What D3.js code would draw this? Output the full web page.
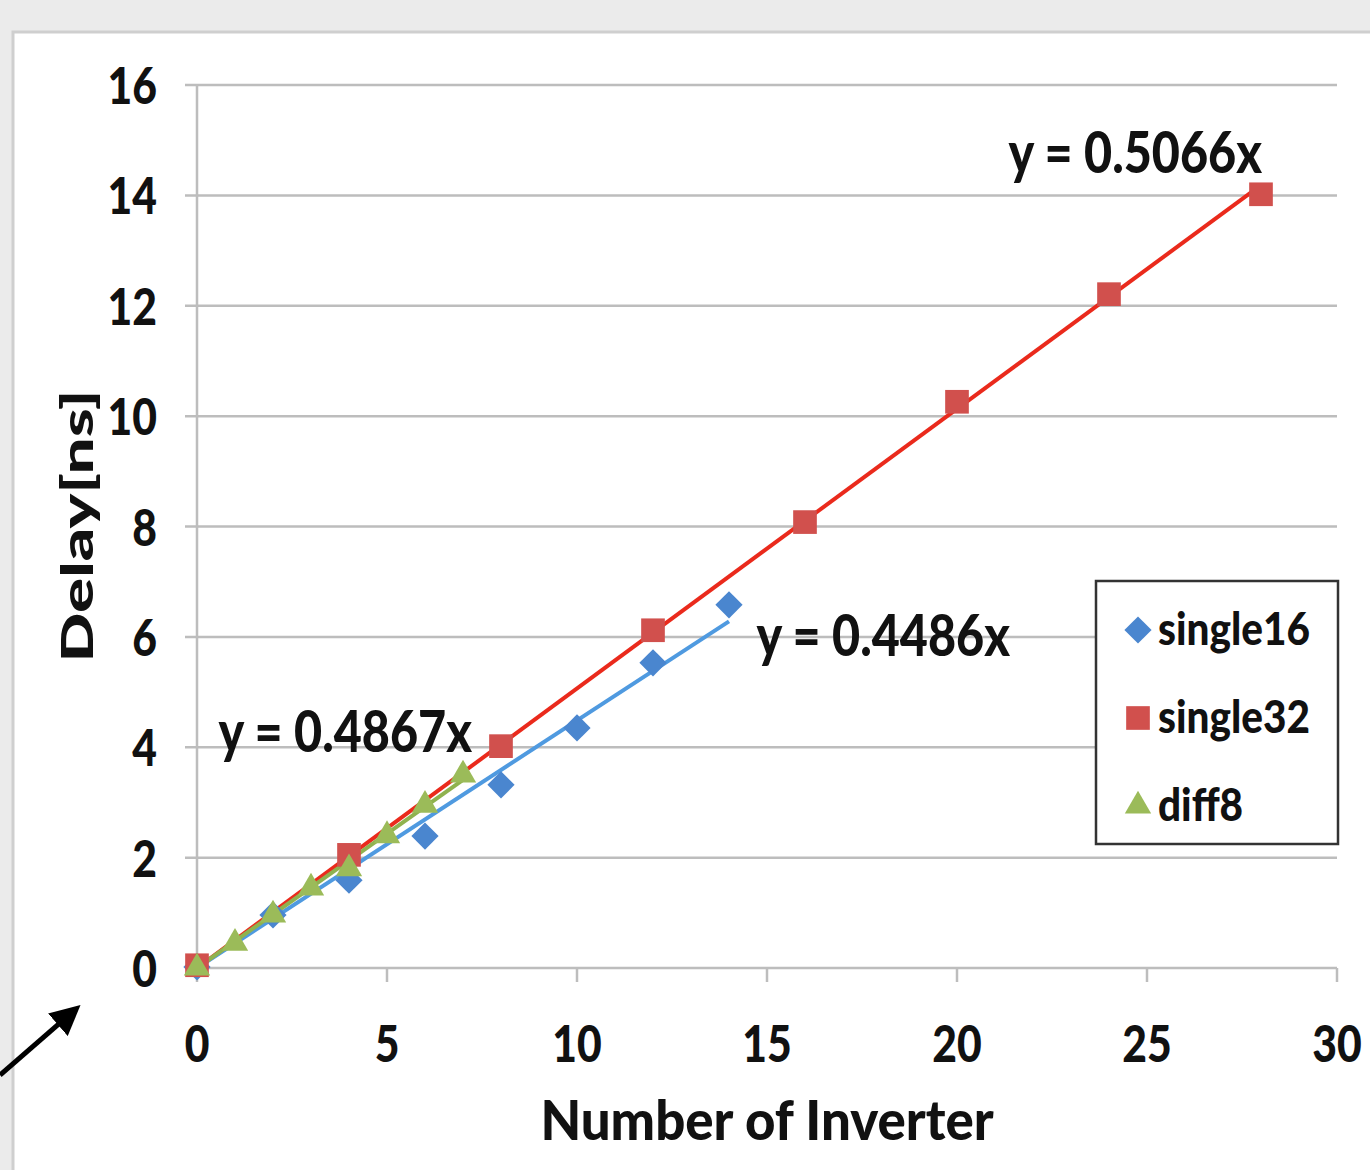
<!DOCTYPE html>
<html>
<head>
<meta charset="utf-8">
<script src="https://cdn.jsdelivr.net/npm/d3@7"></script>
<style>
  html, body { margin: 0; padding: 0; background: #ebebeb; }
  svg { display: block; }
  text { font-family: Lato, "DejaVu Sans", sans-serif; font-weight: 900; fill: #111; }
</style>
</head>
<body>
<script>
const width = 1370,
  height = 1170,
  margin = {top: 85, right: 33, bottom: 202, left: 197};

// data
const single16X = [0, 2, 4, 6, 8, 10, 12, 14];
const single16Y = [0.02, 0.96, 1.59, 2.39, 3.32, 4.35, 5.53, 6.58];
const single32X = [0, 4, 8, 12, 16, 20, 24, 28];
const single32Y = [0.05, 2.05, 4.02, 6.12, 8.08, 10.26, 12.21, 14.02];
const diff8X = [0, 1, 2, 3, 4, 5, 6, 7];
const diff8Y = [0.0, 0.45, 0.96, 1.45, 1.8, 2.4, 2.95, 3.5];

const slopes = {single16: 0.4486, single32: 0.5066, diff8: 0.4867};
const xTicks = [0, 5, 10, 15, 20, 25, 30];
const yTicks = [0, 2, 4, 6, 8, 10, 12, 14, 16];

const diamond = {draw(ctx, size) {
  const r = Math.sqrt(size / 2);
  ctx.moveTo(0, -r); ctx.lineTo(r, 0); ctx.lineTo(0, r); ctx.lineTo(-r, 0); ctx.closePath();
}};

const series = [
  {name: 'single16', xs: single16X, ys: single16Y, shape: diamond, size: 370, fill: '#4a86cf', line: '#4f9ae0'},
  {name: 'single32', xs: single32X, ys: single32Y, shape: d3.symbolSquare, size: 560, fill: '#d1504d', line: '#ea2a1c'},
  {name: 'diff8', xs: diff8X, ys: diff8Y, shape: d3.symbolTriangle, size: 300, fill: '#9bbb59', line: '#8fb24f'}
];

const x = d3.scaleLinear().domain([0, 30]).range([margin.left, width - margin.right]);
const y = d3.scaleLinear().domain([0, 16]).range([height - margin.bottom, margin.top]);

const svg = d3.select('body').append('svg')
  .attr('width', width)
  .attr('height', height);

// narrow bold text, the original font is tall and condensed
function label(sel, px, py, str, size, sx, anchor) {
  return sel.append('text')
    .attr('transform', `translate(${px},${py}) scale(${sx},1)`)
    .attr('text-anchor', anchor || 'start')
    .attr('font-size', size)
    .text(str);
}

// white panel
svg.append('rect')
  .attr('x', 13).attr('y', 32)
  .attr('width', width).attr('height', height)
  .attr('fill', '#fff')
  .attr('stroke', '#cfcfcf').attr('stroke-width', 3);

// grid
svg.append('g').selectAll('line')
  .data(yTicks.filter(d => d > 0))
  .enter().append('line')
  .attr('x1', x(0) - 12).attr('x2', x(30))
  .attr('y1', d => y(d)).attr('y2', d => y(d))
  .attr('stroke', '#bdbdbd').attr('stroke-width', 2.5);

// axes lines
svg.append('line')
  .attr('x1', x(0)).attr('x2', x(0))
  .attr('y1', y(16)).attr('y2', y(0))
  .attr('stroke', '#bdbdbd').attr('stroke-width', 2.5);
svg.append('line')
  .attr('x1', x(0) - 12).attr('x2', x(30))
  .attr('y1', y(0)).attr('y2', y(0))
  .attr('stroke', '#bdbdbd').attr('stroke-width', 2.5);
svg.append('g').selectAll('line')
  .data(xTicks)
  .enter().append('line')
  .attr('x1', d => x(d)).attr('x2', d => x(d))
  .attr('y1', y(0)).attr('y2', y(0) + 14)
  .attr('stroke', '#bdbdbd').attr('stroke-width', 2.5);

// tick labels
const yl = svg.append('g');
yTicks.forEach(d => label(yl, x(0) - 40, y(d) + 19, d, 52, 0.82, 'end'));
const xl = svg.append('g');
xTicks.forEach(d => label(xl, x(d), y(0) + 94, d, 52, 0.82, 'middle'));

// axis titles
label(svg, 767, 1140, 'Number of Inverter', 55, 0.96, 'middle');
svg.append('text')
  .attr('transform', 'translate(93,526) rotate(-90)')
  .attr('text-anchor', 'middle')
  .attr('font-size', 44)
  .attr('textLength', 273)
  .attr('lengthAdjust', 'spacingAndGlyphs')
  .text('Delay[ns]');

// trend lines
series.forEach(s => {
  const xMax = d3.max(s.xs);
  svg.append('line')
    .attr('x1', x(0)).attr('y1', y(0))
    .attr('x2', x(xMax)).attr('y2', y(slopes[s.name] * xMax))
    .attr('stroke', s.line).attr('stroke-width', 4);
});

// markers
series.forEach(s => {
  svg.append('g').selectAll('path')
    .data(s.xs.map((v, i) => [v, s.ys[i]]))
    .enter().append('path')
    .attr('d', d3.symbol().type(s.shape).size(s.size))
    .attr('transform', d => `translate(${x(d[0])},${y(d[1])})`)
    .attr('fill', s.fill);
});

// equation labels
const eqs = [
  {t: 'y = 0.5066x', px: 1262, py: 173},
  {t: 'y = 0.4486x', px: 1010, py: 656},
  {t: 'y = 0.4867x', px: 472, py: 752}
];
const eg = svg.append('g');
eqs.forEach(d => label(eg, d.px, d.py, d.t, 58, 0.836, 'end'));

// legend
const legend = svg.append('g');
legend.append('rect')
  .attr('x', 1096).attr('y', 581)
  .attr('width', 242).attr('height', 263)
  .attr('fill', '#fff')
  .attr('stroke', '#333').attr('stroke-width', 2.5);
series.forEach((s, i) => {
  const cy = 630 + i * 88;
  legend.append('path')
    .attr('d', d3.symbol().type(s.shape).size(s.size)())
    .attr('transform', `translate(1138,${cy})`)
    .attr('fill', s.fill);
  label(legend, 1158, cy + 15, s.name, 45, 0.9);
});

// arrow in the lower left corner
svg.append('defs').append('marker')
  .attr('id', 'head')
  .attr('viewBox', '0 0 10 10')
  .attr('refX', 8).attr('refY', 5)
  .attr('markerWidth', 6).attr('markerHeight', 6)
  .attr('orient', 'auto')
  .append('path').attr('d', 'M0,0L10,5L0,10z').attr('fill', '#000');
svg.append('line')
  .attr('x1', 0).attr('y1', 1075)
  .attr('x2', 76).attr('y2', 1009)
  .attr('stroke', '#000').attr('stroke-width', 5)
  .attr('marker-end', 'url(#head)');
</script>
</body>
</html>
